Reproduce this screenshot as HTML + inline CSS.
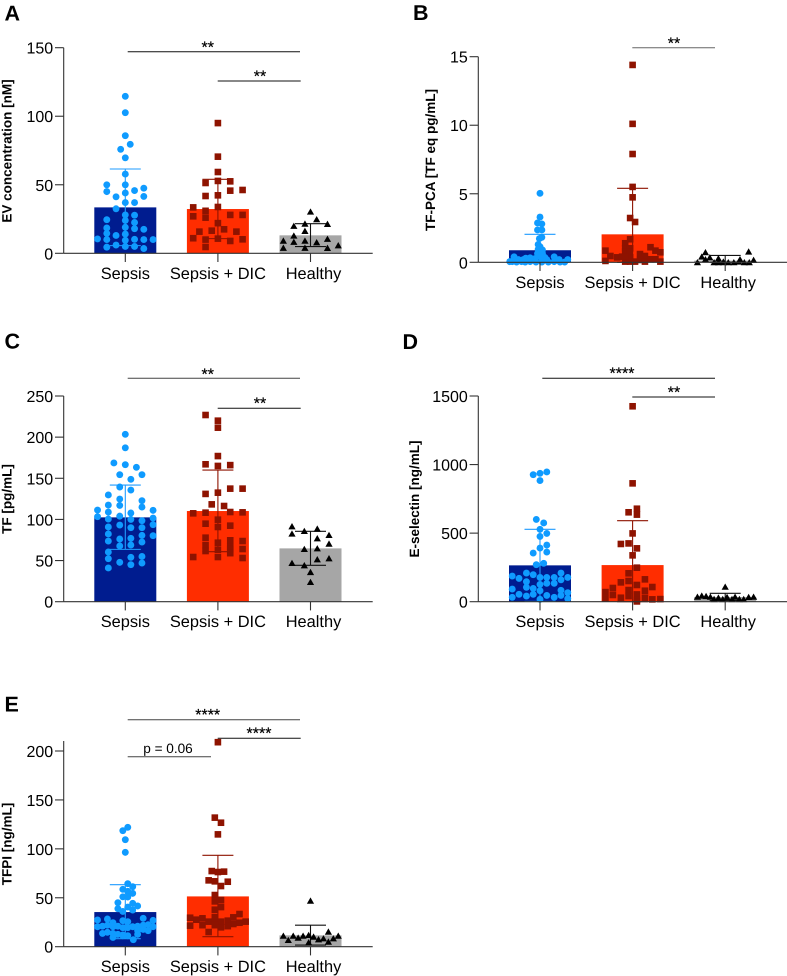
<!DOCTYPE html>
<html lang="en">
<head>
<meta charset="utf-8">
<title>Sepsis biomarker bar charts</title>
<style>
html,body{margin:0;padding:0;background:#fff;}
svg{display:block;font-family:"Liberation Sans",Arial,sans-serif;text-rendering:geometricPrecision;}
.letter{font-size:21.5px;font-weight:bold;fill:#000;}
.ytitle{font-size:13.5px;font-weight:bold;fill:#000;text-anchor:middle;}
.sig{stroke:#111;stroke-width:1;}
.star{font-size:16px;fill:#000;text-anchor:middle;stroke:#000;stroke-width:.2;}
</style>
</head>
<body>
<svg id="figure" xmlns="http://www.w3.org/2000/svg" width="787" height="976" viewBox="0 0 787 976">
  <text class="letter" x="4.5" y="20.7">A</text>
  <text class="letter" x="413" y="20">B</text>
  <text class="letter" x="4.5" y="348.5">C</text>
  <text class="letter" x="402.5" y="349">D</text>
  <text class="letter" x="4.5" y="711.7">E</text>

  <text class="ytitle" transform="translate(11.5,151) rotate(-90)">EV concentration [nM]</text>
  <text class="ytitle" transform="translate(435,160) rotate(-90)">TF-PCA [TF eq pg/mL]</text>
  <text class="ytitle" transform="translate(11.5,499) rotate(-90)">TF [pg/mL]</text>
  <text class="ytitle" transform="translate(419,499) rotate(-90)">E-selectin [ng/mL]</text>
  <text class="ytitle" transform="translate(11.5,844) rotate(-90)">TFPI [ng/mL]</text>

  <g>
    <line class="sig" x1="127.7" x2="300" y1="51.7" y2="51.7"/>
    <text class="star" x="207.7" y="52.7">**</text>
    <line class="sig" x1="217.7" x2="300.7" y1="81" y2="81"/>
    <text class="star" x="260" y="81.7">**</text>
  </g>
  <g>
    <line class="sig" style="stroke:#666" x1="632.3" x2="715" y1="47.7" y2="47.7"/>
    <text class="star" x="674" y="48.4">**</text>
  </g>
  <g>
    <line class="sig" style="stroke:#444" x1="127.7" x2="300" y1="378.3" y2="378.3"/>
    <text class="star" x="207.7" y="379.4">**</text>
    <line class="sig" x1="217.7" x2="300.7" y1="408.3" y2="408.3"/>
    <text class="star" x="260" y="408.7">**</text>
  </g>
  <g>
    <line class="sig" x1="542.3" x2="715" y1="378.3" y2="378.3"/>
    <text class="star" x="622" y="378.7">****</text>
    <line class="sig" x1="632.3" x2="715" y1="397" y2="397"/>
    <text class="star" x="674" y="397.7">**</text>
  </g>
  <g>
    <line class="sig" style="stroke:#444" x1="127.7" x2="300" y1="719.7" y2="719.7"/>
    <text class="star" x="207.7" y="720">****</text>
    <line class="sig" x1="217.7" x2="300.7" y1="738.3" y2="738.3"/>
    <text class="star" x="259" y="738.4">****</text>
    <line class="sig" style="stroke:#444" x1="127.7" x2="211" y1="756.7" y2="756.7"/>
    <text x="168" y="753" text-anchor="middle" font-size="13.6" fill="#000">p = 0.06</text>
  </g>
</svg>
<script>
const categories = ['Sepsis', 'Sepsis + DIC', 'Healthy'];

const aTicks = [0, 50, 100, 150];
const aMeans = [33.5, 32.3, 13.1];
const aErrHigh = [61.5, 54, 21.6];
const aErrLow = [5.6, 10.7, 4.9];
const aSepsis = [114.5,102.6,85.8,79.5,75.9,69.7,57.8,50,50,47.5,45.8,45,44,41.2,41.5,37,37,32.5,28,27.8,24.5,24,22.5,19,18.5,18,17.5,14.5,14,13,10,9.5,10.2,10,10.5,10,4.5,6,5,5,3.5];
const aSepsisSwarm = [0,0,0,.8,-.75,0,0,-3,0,3,1.5,-3,0,-1.5,3,0,1.5,-1.5,0,1.5,-3,0,1.5,0,-3,1.5,3,-3,0,-1.5,-3,0,1.5,3,-4.5,4.5,-3,-1.5,0,1.5,3];
const aDic = [95,70.5,59.3,52.8,52.5,51.3,45.7,46.2,42.3,41.8,33.8,33.5,31,28,28,27,26,22,17.5,16.5,15.8,15.8,11,10.7,10,9,10.2,4.6];
const aDicSwarm = [0,0,0,0,2,-2,2,4,0,-2,0,-4,-2,2,4,-4,-2,0,1,-1,-3,3,-4,0,-2,2,4,-2];
const aHealthy = [30.4,24.8,21.6,21.4,20,16.3,12.9,9.2,8.3,9.2,8,10.5,4,4,3.9,5.8];
const aHealthySwarm = [0,1,-.9,2.75,-2.7,-.9,-2.7,-4.4,-2.7,-.9,1,2.75,-4.4,-.9,2.75,4.5];

const bTicks = [0, 5, 10, 15];
const bMeans = [0.88, 2.04, 0.12];
const bErrHigh = [2.04, 5.4, 0.5];
const bErrLow = [0, 0, 0];
const bSepsis = [5.03,3.3,2.87,2.8,2.36,2.36,1.82,1.73,1.3,1.14,.95,.9,.65,.65,.4,.05,.2,.2,.02,.05,.27,.02,.02,.2,.02,.4,.05,.2,.02,.2,.02,.05,.33,.35,.02,.3,.4,.05];
const bSepsisSwarm = [0,0,-.4,.3,-.4,.3,.3,-.1,-.3,0,-.3,.4,-.4,.4,-4.2,-4.5,-3.5,-2.7,-2.4,-1.6,-.8,-.65,.3,1.1,1.35,2.3,2.3,3.1,3.25,4.5,4,-3,-1.6,.8,-3.8,-2.3,.1,-4.9];
const bDic = [14.4,10.1,7.9,5.5,4.74,3.23,2.94,1.68,1.39,1.02,1.02,1.1,.85,.73,.85,.78,.78,.46,.36,.41,.6,.46,.1,.05,.36,.05,.17,.05,.22,.22,.05,.05,.41];
const bDicSwarm = [0,0,0,0,0,-.4,.4,-.4,-1.2,-1.2,-.4,2.9,3.7,4.5,-4.4,-1.2,-.5,-3.6,-2.5,-1.7,1.2,2,-4.4,-1.2,-.4,.4,1.2,2,2.9,3.7,4.5,-.4,-1.2];
const bHealthy = [.73,.78,.41,.36,.22,.29,0,0,.05,0,0,.05,0,0,.17,.22,0,0];
const bHealthySwarm = [-3.2,3.8,-3.8,-2.5,-3.2,-1.1,-4.5,-1.8,-.3,.5,1.4,2.2,3.1,3.9,4.6,2.4,-.3,-1.1];

const cTicks = [0, 50, 100, 150, 200, 250];
const cMeans = [102.5, 110.2, 64.8];
const cErrHigh = [141.8, 160, 85.5];
const cErrLow = [63.6, 60.8, 44.2];
const cSepsis = [203.4,187,168.6,166.5,163.3,154.4,154.4,148.7,139.4,135.7,129.7,124.8,122.8,117.5,117,115,111.4,111,109,107.8,103.3,104,100.5,100,98.5,101.7,93.2,93.6,90.8,90,90,82.3,80.6,80.2,76.2,77,73.7,72.5,67.7,68.9,60.4,55,53.9,52.3,47.8,47,45,41];
const cSepsisSwarm = [0,0,-1.85,0,1.8,-.9,2.7,.9,-.9,.9,-2.75,-.9,2.7,-2.75,-.9,2.7,-4.5,4.5,-2.75,.9,-4.5,-.9,-2.75,.9,2.7,4.5,-.9,4.5,-2.75,.9,2.7,-2.75,2.7,4.5,-.9,.9,-2.75,2.7,-.9,.9,-2.75,2.7,.9,-2.75,-.9,2.7,.9,-2.75];
const cDic = [226.9,220,211.5,177,167,165,166,131,132.5,137.4,137.4,118.3,116.3,107.4,108.2,109,108.6,99.7,94.8,90.8,92.4,77.8,74.6,73.7,71.7,68.9,66.9,61.6,63.2,64,64,59,54.3,54.3,53.1];
const cDicSwarm = [-2,0,0,0,-2,0,2,-2,0,2,4,-1,1,-4,-2,2,4,0,-2,0,2,-2,2,4,0,-2,2,-2,0,2,4,2,-4,0,4];
const cHealthy = [91.6,88.7,85.9,81,82.7,77,70.5,64.8,64,52.7,51.5,47,44.2,36,23.9];
const cHealthySwarm = [-3,1.1,-1,3,-3,1.1,3,1.1,-1,3,1.1,-3,-1,0,0];

const dTicks = [0, 500, 1000, 1500];
const dMeans = [265, 267, 34];
const dErrHigh = [528, 591, 61];
const dErrLow = [2, 0, 8];
const dSepsis = [946,936,926,883,600,574,528,498,476,413,391,355,362,270,280,209,197,209,187,170,177,177,177,177,160,146,126,134,134,105,97,92,80,83,54,41,54,66,46,46,32,17,32,22];
const dSepsisSwarm = [1.1,0,-1.1,0,-.6,.6,0,1.1,0,1.1,0,-1.1,1.1,-.6,.6,-2.2,-1.1,3.4,-4.5,-3.4,0,1.1,2.3,4.5,3.4,-2.2,0,1.1,2.3,-2.2,-1.1,-4.5,0,3.4,-3.4,-2.2,-1.1,4.5,3.4,1.1,-4.5,0,2.3,4.5];
const dDic = [1425,863,678,652,635,498,421,425,389,338,248,207,163,141,151,122,100,107,70,85,80,49,41,53,24,29,29,17,19,12,2];
const dDicSwarm = [0,0,.7,-.65,.7,0,-1.9,-.65,.7,0,.7,-.65,2,-1.9,-.65,.7,-3.2,3.2,-4.4,-.65,2,-3.2,-.65,.7,-4.4,-1.9,2,3.2,4.5,.7,.7];
const dHealthy = [109,36,44,41,36,19,29,19,34,19,36,19,19,34,36];
const dHealthySwarm = [0,-4.5,-3.8,-3.1,-2.4,-1.8,-1.1,-.4,.3,1.1,1.6,2.3,3,3.8,4.6];

const eTicks = [0, 50, 100, 150, 200];
const eMeans = [35.4, 51.4, 11.6];
const eErrHigh = [63.4, 93.4, 22];
const eErrLow = [8.2, 10.2, 1.7];
const eSepsis = [122,118.6,109.4,96.4,64.4,58.6,61.3,56.6,54.5,51,50.8,45,44.3,41.6,40.5,38.8,36,37.5,28.3,27.3,29,26.9,26.6,25.6,24.5,20.4,21,22,20.4,21,19.4,19.4,20.4,21,22,22.5,20.4,16.4,16.4,13.6,14.7,13.6,12.6,12,11.2,12.6,9.5,11.2,7.2,17.7];
const eSepsisSwarm = [.4,-.4,0,0,.4,-.4,1.2,.4,1.2,-.4,.4,-1.2,1.2,2,.4,-1.2,-.4,1.2,-2.9,-4.5,2.9,4.5,-.4,.4,-2,-4.5,-3.7,-2.9,-2,-1.2,-.4,.4,1.2,2,2.9,3.7,4.5,3.7,2,-3.7,-2.9,-2,-1.2,-.4,.4,2,-2,-.4,1.3,2.9];
const eDic = [209,131.9,126.7,114.8,77.3,76.3,76.7,67.8,66.8,66.4,62,52.8,46.3,47.7,40.5,37.8,30.3,33.4,29.6,27.6,29,25.6,24.5,25.6,26.6,30,25.6,21.5,22,22,23.2,24.5,19.8,21,15];
const eDicSwarm = [0,-.5,.5,0,-1,0,1,-1.5,-.5,1.6,.5,-.5,-.5,.5,.5,-.5,-.5,3.5,-4.5,-3.5,-2.5,-1.5,-.5,.5,1.6,2.5,4.5,-4.5,-2.5,-.5,2.5,3.5,.5,1.6,-1.5];
const eHealthy = [47,15.3,11.2,6.8,11.2,9.2,11.2,11.9,4.4,10.2,7.5,8.5,5.1,8.5,11.2];
const eHealthySwarm = [0,2.9,-4.4,-3.6,-2.8,-2,-1.2,-.3,-.3,.5,1.3,2.1,2.9,3.7,4.5];

const NS = 'http://www.w3.org/2000/svg';
const figure = document.getElementById('figure');
const barColors = ['#001c8f', '#ff2d00', '#a6a6a6'];
const pointColors = ['#0f9bff', '#8e1300', '#000000'];
const errColors = ['#1e9bff', '#8e1300', '#111111'];
const axisColor = '#333333';

function svgEl(tag, parent, attrs) {
  const el = document.createElementNS(NS, tag);
  for (const k in attrs) el.setAttribute(k, attrs[k]);
  parent.appendChild(el);
  return el;
}

function drawMarker(parent, kind, x, y, color) {
  let mark;
  if (kind === 0) {
    mark = svgEl('circle', parent, {cx: x, cy: y, r: 3.45, fill: color});
    
  } else if (kind === 1) {
    mark = svgEl('rect', parent, {x: x - 3.3, y: y - 3.3, width: 6.6, height: 6.6, fill: color});
    
  } else {
    mark = svgEl('polygon', parent, {points: (x - 3.6) + ',' + (y + 3) + ' ' + (x + 3.6) + ',' + (y + 3) + ' ' + x + ',' + (y - 3.3), fill: color});
    
  }
  
}

function drawPanel(p) {
  const scaleY = v => p.y0 - (v / p.yMax) * (p.y0 - p.yTop);
  const scaleX = i => p.cx0 + i * 92.6;
  const swarmUnit = 6.17;

  const g = svgEl('g', figure, {});
  
  

  categories.forEach((cat, i) => {
    const bar = svgEl('rect', g, {x: scaleX(i) - 31, y: scaleY(p.means[i]), width: 62, height: p.y0 - scaleY(p.means[i]), fill: barColors[i]});
    
    
  });

  categories.forEach((cat, i) => {
    const top = scaleY(p.errHigh[i]);
    const bottom = scaleY(p.errLow[i]);
    const err = svgEl('path', g, {
      d: 'M' + scaleX(i) + ' ' + top + 'V' + bottom +
         'M' + (scaleX(i) - 15.5) + ' ' + top + 'H' + (scaleX(i) + 15.5) +
         'M' + (scaleX(i) - 15.5) + ' ' + bottom + 'H' + (scaleX(i) + 15.5),
      stroke: errColors[i], 'stroke-width': 1.1, fill: 'none'
    });
    
    
  });

  p.series.forEach((values, i) => {
    const group = svgEl('g', g, {});
    
    
    values.forEach((v, n) => {
      drawMarker(group, i, scaleX(i) + p.swarms[i][n] * swarmUnit, scaleY(v), pointColors[i]);
    });
  });

  const yAxis = svgEl('line', g, {x1: p.axisX, x2: p.axisX, y1: p.axisTop, y2: p.y0, stroke: axisColor, 'stroke-width': 1.1});
  
  
  const xAxis = svgEl('line', g, {x1: p.axisX, x2: p.axisEnd, y1: p.y0, y2: p.y0, stroke: axisColor, 'stroke-width': 1.1});
  
  

  p.ticks.forEach(t => {
    const y = scaleY(t);
    const tick = svgEl('line', g, {x1: p.axisX - 8.7, x2: p.axisX, y1: y, y2: y, stroke: axisColor, 'stroke-width': 1.1});
    
    
    const label = svgEl('text', g, {x: p.axisX - 10.5, y: y + 6, 'text-anchor': 'end', 'font-size': 16, fill: '#000'});
    
    
    label.textContent = t;
  });

  categories.forEach((cat, i) => {
    const x = scaleX(i);
    const tick = svgEl('line', g, {x1: x, x2: x, y1: p.y0, y2: p.y0 + 8.7, stroke: axisColor, 'stroke-width': 1.1});
    
    
    const label = svgEl('text', g, {x: x + [0, 0, 3][i], y: p.y0 + 25.5, 'text-anchor': 'middle', 'font-size': 16.4, fill: '#000'});
    
    
    label.textContent = cat;
  });
}

drawPanel({id: 'a', ticks: aTicks, yMax: 150, y0: 253.3, yTop: 47.7, axisTop: 47.7, axisX: 63.7, axisEnd: 372.7, cx0: 125.3,
  means: aMeans, errHigh: aErrHigh, errLow: aErrLow, series: [aSepsis, aDic, aHealthy], swarms: [aSepsisSwarm, aDicSwarm, aHealthySwarm]});
drawPanel({id: 'b', ticks: bTicks, yMax: 15, y0: 262.3, yTop: 56.7, axisTop: 56.7, axisX: 478.3, axisEnd: 787, cx0: 540,
  means: bMeans, errHigh: bErrHigh, errLow: bErrLow, series: [bSepsis, bDic, bHealthy], swarms: [bSepsisSwarm, bDicSwarm, bHealthySwarm]});
drawPanel({id: 'c', ticks: cTicks, yMax: 250, y0: 601.7, yTop: 396, axisTop: 396, axisX: 63.7, axisEnd: 372.7, cx0: 125.3,
  means: cMeans, errHigh: cErrHigh, errLow: cErrLow, series: [cSepsis, cDic, cHealthy], swarms: [cSepsisSwarm, cDicSwarm, cHealthySwarm]});
drawPanel({id: 'd', ticks: dTicks, yMax: 1500, y0: 601.7, yTop: 396, axisTop: 396, axisX: 478.3, axisEnd: 787, cx0: 540,
  means: dMeans, errHigh: dErrHigh, errLow: dErrLow, series: [dSepsis, dDic, dHealthy], swarms: [dSepsisSwarm, dDicSwarm, dHealthySwarm]});
drawPanel({id: 'e', ticks: eTicks, yMax: 200, y0: 946.7, yTop: 751, axisTop: 741, axisX: 63.7, axisEnd: 372.7, cx0: 125.3,
  means: eMeans, errHigh: eErrHigh, errLow: eErrLow, series: [eSepsis, eDic, eHealthy], swarms: [eSepsisSwarm, eDicSwarm, eHealthySwarm]});
</script>
</body>
</html>
